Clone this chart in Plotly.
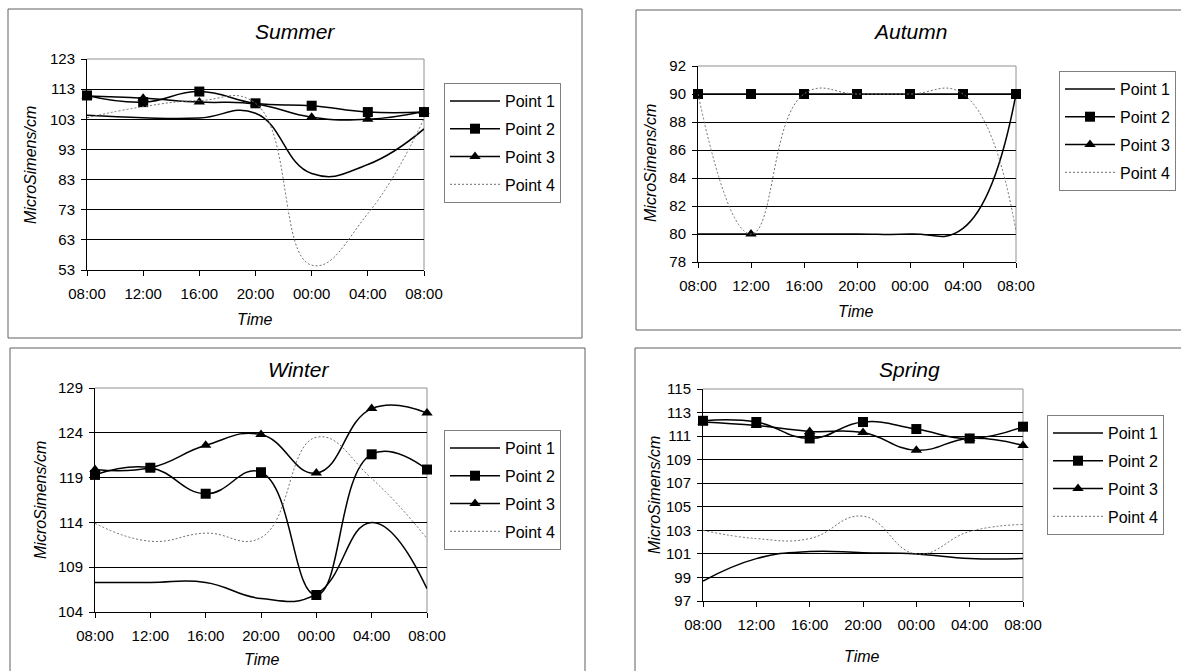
import plotly.graph_objects as go

W, H = 1181, 671
FONT = "Liberation Sans, Arial, sans-serif"

times = ["08:00", "12:00", "16:00", "20:00", "00:00", "04:00", "08:00"]
series_names = ["Point 1", "Point 2", "Point 3", "Point 4"]

summer_p1 = [104.3, 103.5, 103.4, 105.0, 85.0, 88.0, 99.8]
summer_p2 = [110.9, 108.7, 112.2, 108.3, 107.5, 105.4, 105.4]
summer_p3 = [110.7, 110.0, 108.7, 108.1, 103.7, 103.0, 105.6]
summer_p4 = [103.5, 107.2, 109.2, 108.3, 54.6, 71.7, 103.2]

autumn_p1 = [80, 80, 80, 80, 80, 80.4, 90]
autumn_p2 = [90, 90, 90, 90, 90, 90, 90]
autumn_p3 = [None, 80, None, None, None, None, None]
autumn_p4 = [90, 80, 90, 90, 90, 90, 80.2]

winter_p1 = [107.3, 107.3, 107.3, 105.5, 106.0, 114.0, 106.6]
winter_p2 = [119.3, 120.1, 117.2, 119.6, 105.9, 121.6, 119.9]
winter_p3 = [119.9, 120.1, 122.6, 123.8, 119.5, 126.7, 126.2]
winter_p4 = [113.9, 111.9, 112.8, 112.3, 123.5, 118.9, 112.2]

spring_p1 = [98.7, 100.6, 101.2, 101.1, 101.0, 100.6, 100.6]
spring_p2 = [112.3, 112.2, 110.8, 112.2, 111.6, 110.8, 111.8]
spring_p3 = [112.2, 111.9, 111.4, 111.3, 109.8, 110.8, 110.2]
spring_p4 = [103.0, 102.3, 102.3, 104.2, 101.0, 102.9, 103.5]

panels = [
    dict(title="Summer", data=[summer_p1, summer_p2, summer_p3, summer_p4],
         yr=[53, 123], dt=10,
         box=(8, 9, 582, 338), plot=(87, 59, 424, 270),
         tpos=(295, 32), ypos=(30, 165), xpos=(255, 320), leg=(444, 83)),
    dict(title="Autumn", data=[autumn_p1, autumn_p2, autumn_p3, autumn_p4],
         yr=[78, 92], dt=2,
         box=(636, 10, 1183, 330), plot=(698, 66, 1016, 262),
         tpos=(910, 32), ypos=(650, 163), xpos=(856, 312), leg=(1059, 71)),
    dict(title="Winter", data=[winter_p1, winter_p2, winter_p3, winter_p4],
         yr=[104, 129], dt=5,
         box=(10, 348, 585, 673), plot=(95, 388, 427, 612),
         tpos=(298, 370), ypos=(40, 500), xpos=(262, 659), leg=(444, 430)),
    dict(title="Spring", data=[spring_p1, spring_p2, spring_p3, spring_p4],
         yr=[97, 115], dt=2,
         box=(635, 348, 1183, 673), plot=(703, 389, 1023, 601),
         tpos=(909, 370), ypos=(654, 495), xpos=(862, 656), leg=(1047, 415)),
]

SM = 1.3
styles = [
    dict(mode="lines", line=dict(color="black", width=1.5, shape="spline", smoothing=SM)),
    dict(mode="lines+markers", line=dict(color="black", width=1.5, shape="spline", smoothing=SM),
         marker=dict(symbol="square", size=10, color="black")),
    dict(mode="lines+markers", line=dict(color="black", width=1.5, shape="spline", smoothing=SM),
         marker=dict(symbol="triangle-up", size=10, color="black")),
    dict(mode="lines", line=dict(color="#707070", width=1, dash="2px,2px",
                                 shape="spline", smoothing=SM)),
]

def px(x):
    return x / W

def py(y):
    return 1 - y / H

fig = go.Figure()
shapes = []
annotations = []
layout = {}
xs = list(range(len(times)))

for i, p in enumerate(panels):
    n = "" if i == 0 else str(i + 1)
    xa, ya = "x" + n, "y" + n
    leg = "legend" + n
    for j, (vals, st) in enumerate(zip(p["data"], styles)):
        fig.add_trace(go.Scatter(
            x=xs, y=vals, name=series_names[j], xaxis=xa, yaxis=ya,
            legend=leg, legendgroup=f"{i}-{j}", cliponaxis=False,
            connectgaps=False, **st))
    x0, y0, x1, y1 = p["plot"]
    layout["xaxis" + n] = dict(
        domain=[px(x0), px(x1)], anchor=ya, range=[0, 6],
        tickvals=xs, ticktext=times, showgrid=False, zeroline=False,
        showline=True, linecolor="black", linewidth=1,
        ticks="outside", ticklen=5, tickcolor="black",
        tickfont=dict(family=FONT, size=15, color="black"),
        ticklabelstandoff=5, fixedrange=True, automargin=False)
    layout["yaxis" + n] = dict(
        domain=[py(y1), py(y0)], anchor=xa, range=p["yr"], dtick=p["dt"],
        tick0=p["yr"][0], showgrid=True, gridcolor="black", gridwidth=1,
        zeroline=False, showline=True, linecolor="black", linewidth=1,
        ticks="outside", ticklen=5, tickcolor="black",
        tickfont=dict(family=FONT, size=15, color="black"),
        ticklabelstandoff=3, fixedrange=True, automargin=False)
    lx, ly = p["leg"]
    layout[leg] = dict(
        x=px(lx), y=py(ly), xanchor="left", yanchor="top",
        xref="paper", yref="paper",
        bordercolor="#808080", borderwidth=1, bgcolor="white",
        font=dict(family=FONT, size=16, color="black"),
        tracegroupgap=4, itemwidth=50)
    bx0, by0, bx1, by1 = p["box"]
    shapes.append(dict(type="rect", xref="paper", yref="paper",
                       x0=px(bx0), x1=px(bx1), y0=py(by1), y1=py(by0),
                       line=dict(color="#606060", width=1), layer="below"))
    # grey plot-area border (top and right)
    shapes.append(dict(type="line", xref=xa + " domain", yref=ya + " domain",
                       x0=0, x1=1, y0=1, y1=1,
                       line=dict(color="#909090", width=1), layer="above"))
    shapes.append(dict(type="line", xref=xa + " domain", yref=ya + " domain",
                       x0=1, x1=1, y0=0, y1=1,
                       line=dict(color="#909090", width=1), layer="below"))
    tx, ty = p["tpos"]
    annotations.append(dict(text=p["title"], x=px(tx), y=py(ty), xref="paper", yref="paper",
                            showarrow=False, xanchor="center", yanchor="middle",
                            font=dict(family=FONT, size=21, color="black", style="italic")))
    ax_, ay_ = p["ypos"]
    annotations.append(dict(text="MicroSimens/cm", x=px(ax_), y=py(ay_), xref="paper", yref="paper",
                            showarrow=False, textangle=-90, xanchor="center", yanchor="middle",
                            font=dict(family=FONT, size=16, color="black", style="italic")))
    tx2, ty2 = p["xpos"]
    annotations.append(dict(text="Time", x=px(tx2), y=py(ty2), xref="paper", yref="paper",
                            showarrow=False, xanchor="center", yanchor="middle",
                            font=dict(family=FONT, size=16, color="black", style="italic")))

fig.update_layout(
    width=W, height=H, autosize=False,
    margin=dict(l=0, r=0, t=0, b=0, autoexpand=False),
    paper_bgcolor="white", plot_bgcolor="white",
    shapes=shapes, annotations=annotations, showlegend=True,
    font=dict(family=FONT, color="black"),
    **layout)

fig.write_html("out.html", config={"displayModeBar": False})
